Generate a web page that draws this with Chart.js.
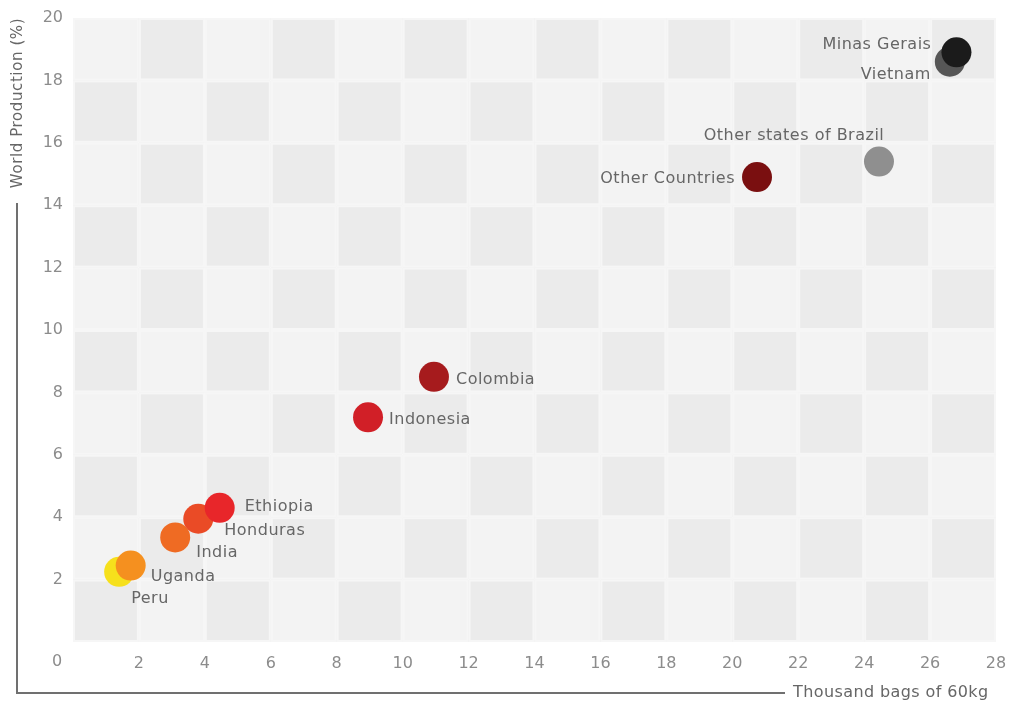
<!DOCTYPE html>
<html>
<head>
<meta charset="utf-8">
<script src="https://cdn.jsdelivr.net/npm/chart.js@4/dist/chart.umd.min.js"></script>
<style>
  html, body { margin: 0; padding: 0; background: #ffffff; }
  #wrap { width: 1011px; height: 704px; position: relative; }
</style>
</head>
<body>
<div id="wrap"><canvas id="c" width="1011" height="704"></canvas></div>
<script>
// ---- data ----
const countries = ['Peru','Uganda','India','Honduras','Ethiopia','Indonesia','Colombia','Other Countries','Other states of Brazil','Vietnam','Minas Gerais'];
const bags  = [1.4, 1.75, 3.1, 3.8, 4.45, 8.95, 10.95, 20.75, 24.45, 26.6, 26.8];
const share = [2.25, 2.45, 3.35, 3.95, 4.3, 7.2, 8.5, 14.9, 15.4, 18.6, 18.9];
const xTicks = [0,2,4,6,8,10,12,14,16,18,20,22,24,26,28];
const yTicks = [0,2,4,6,8,10,12,14,16,18,20];
const xTitle = 'Thousand bags of 60kg';
const yTitle = 'World Production (%)';

// ---- styles ----
const colors = ['#f6e01c','#f5901f','#ef6b23','#ea4b26','#e8262a','#d11f27','#a61b1d','#7a0f10','#8f8f8f','#565656','#1b1b1b'];
const labelPlacement = [
  {align:'left',  dx: 12, dy: 27},
  {align:'left',  dx: 20, dy: 11},
  {align:'left',  dx: 21, dy: 15},
  {align:'left',  dx: 26, dy: 12},
  {align:'left',  dx: 25, dy: -1},
  {align:'left',  dx: 21, dy: 2},
  {align:'left',  dx: 22, dy: 3},
  {align:'right', dx: -22, dy: 2},
  {align:'center',dx: -85, dy: -26},
  {align:'right', dx: -19, dy: 13},
  {align:'right', dx: -25, dy: -7}
];
const FONT = '"DejaVu Sans", sans-serif';

const checkerPlugin = {
  id: 'checker',
  beforeDatasetsDraw(chart) {
    const {ctx, scales:{x, y}} = chart;
    ctx.save();
    for (let i = 0; i < 14; i++) {
      for (let j = 0; j < 10; j++) {
        const x0 = x.getPixelForValue(i*2), x1 = x.getPixelForValue(i*2+2);
        const y0 = y.getPixelForValue(20 - j*2), y1 = y.getPixelForValue(18 - j*2);
        ctx.fillStyle = ((i + j) % 2 === 0) ? '#f3f3f3' : '#ebebeb';
        ctx.fillRect(x0, y0, x1 - x0, y1 - y0);
        ctx.strokeStyle = '#f6f6f6';
        ctx.lineWidth = 2;
        ctx.strokeRect(x0 + 1, y0 + 1, x1 - x0 - 2, y1 - y0 - 2);
      }
    }
    ctx.restore();
  },
  afterDraw(chart) {
    const {ctx, scales:{x, y}} = chart;
    ctx.save();
    // point labels
    ctx.font = '16px ' + FONT;
    ctx.letterSpacing = '0.5px';
    ctx.fillStyle = '#666666';
    ctx.textBaseline = 'middle';
    const meta = chart.getDatasetMeta(0);
    meta.data.forEach((pt, i) => {
      const p = labelPlacement[i];
      ctx.textAlign = p.align;
      ctx.fillText(countries[i], pt.x + p.dx, pt.y + p.dy);
    });
    // zero corner label
    ctx.letterSpacing = '0px';
    ctx.font = '16px ' + FONT;
    ctx.fillStyle = '#8c8c8c';
    ctx.textAlign = 'center';
    ctx.fillText('0', x.getPixelForValue(0) - 16, 662);
    // L-shaped axis line
    ctx.strokeStyle = '#707070';
    ctx.lineWidth = 2;
    ctx.beginPath();
    ctx.moveTo(17, 203);
    ctx.lineTo(17, 693);
    ctx.lineTo(785, 693);
    ctx.stroke();
    // axis titles
    ctx.fillStyle = '#666666';
    ctx.font = '16px ' + FONT;
    ctx.letterSpacing = '0.4px';
    ctx.textAlign = 'left';
    ctx.fillText(xTitle, 793, 693);
    ctx.translate(18, 103);
    ctx.rotate(-Math.PI/2);
    ctx.textAlign = 'center';
    ctx.font = '15px ' + FONT;
    ctx.letterSpacing = '0.6px';
    ctx.fillText(yTitle, 0, 0);
    ctx.restore();
  }
};

new Chart(document.getElementById('c'), {
  type: 'scatter',
  data: {
    datasets: [{
      data: bags.map((v, i) => ({x: v, y: share[i]})),
      backgroundColor: colors,
      borderWidth: 0,
      pointRadius: 15,
      pointHoverRadius: 15
    }]
  },
  options: {
    responsive: false,
    animation: false,
    layout: { padding: { top: 18, right: 14, left: 0, bottom: 0 } },
    plugins: { legend: { display: false }, tooltip: { enabled: false } },
    scales: {
      x: {
        type: 'linear', min: 0, max: 28,
        afterBuildTicks(s) { s.ticks = xTicks.map(v => ({value: v})); },
        afterFit(s) { s.height = 62; s.paddingLeft = 0; s.paddingRight = 0; },
        grid: { display: false, drawTicks: false },
        border: { display: false },
        ticks: {
          padding: 12,
          color: '#8c8c8c',
          font: { family: FONT, size: 16 },
          maxRotation: 0,
          callback: v => v === 0 ? '' : String(v)
        }
      },
      y: {
        type: 'linear', min: 0, max: 20,
        afterBuildTicks(s) { s.ticks = yTicks.map(v => ({value: v})); },
        afterFit(s) { s.width = 73; s.paddingTop = 0; s.paddingBottom = 0; },
        grid: { display: false, drawTicks: false },
        border: { display: false },
        ticks: {
          padding: 10,
          color: '#8c8c8c',
          font: { family: FONT, size: 16 },
          callback: v => v === 0 ? '' : String(v)
        }
      }
    }
  },
  plugins: [checkerPlugin]
});
</script>
</body>
</html>
